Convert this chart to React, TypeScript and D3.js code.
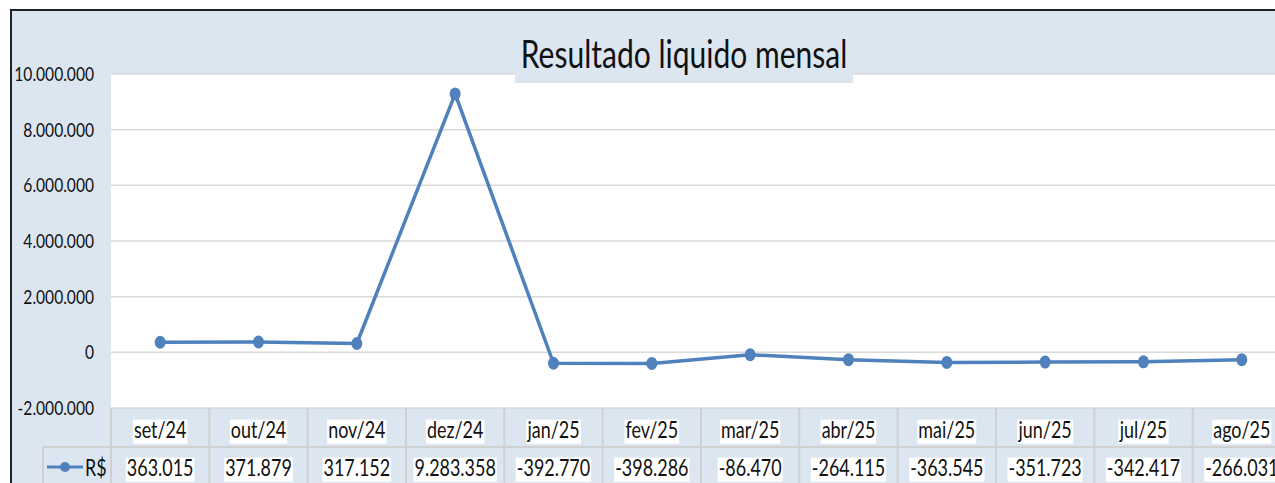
import { useRef, useEffect } from "react";
import * as d3 from "d3";

const months = [
  "set/24", "out/24", "nov/24", "dez/24", "jan/25", "fev/25",
  "mar/25", "abr/25", "mai/25", "jun/25", "jul/25", "ago/25",
];
const values = [
  363015, 371879, 317152, 9283358, -392770, -398286,
  -86470, -264115, -363545, -351723, -342417, -266031,
];
const yTicks = [-2000000, 0, 2000000, 4000000, 6000000, 8000000, 10000000];
const seriesName = "R$";
const title = "Resultado liquido mensal";

const fmt = (v: number) =>
  (v < 0 ? "-" : "") +
  Math.abs(v)
    .toString()
    .replace(/\B(?=(\d{3})+(?!\d))/g, ".");

export default function App() {
  const svgRef = useRef<SVGSVGElement>(null);

  useEffect(() => {
    drawChart();
  }, []);

  function drawChart() {
    if (!svgRef.current) return;
    const svg = d3.select(svgRef.current);
    svg.selectAll("*").remove();

    const W = 1275;
    const H = 483;
    const bg = "#dce6f1";
    const blue = "#4f81bd";
    const font = "Lato, 'Open Sans', sans-serif";
    const sx = 0.78;

    const left = 111;
    const colW = 98.33;
    const top = 74;
    const bottom = 408;

    const x = d3
      .scaleBand<string>()
      .domain(months)
      .range([left, left + colW * months.length]);
    const y = d3.scaleLinear().domain([-2000000, 10000000]).range([bottom, top]);

    // chart area
    svg.append("rect").attr("width", W).attr("height", H).attr("fill", "#fff");
    svg
      .append("rect")
      .attr("x", 11)
      .attr("y", 10)
      .attr("width", W + 10)
      .attr("height", H + 10)
      .attr("fill", bg)
      .attr("stroke", "#222")
      .attr("stroke-width", 2);

    // plot area
    svg
      .append("rect")
      .attr("x", left)
      .attr("y", top)
      .attr("width", colW * months.length)
      .attr("height", bottom - top)
      .attr("fill", "#fff");

    // gridlines
    svg
      .append("g")
      .selectAll("line")
      .data(yTicks)
      .enter()
      .append("line")
      .attr("x1", left)
      .attr("x2", W)
      .attr("y1", (d) => y(d))
      .attr("y2", (d) => y(d))
      .attr("stroke", "#d9d9d9")
      .attr("stroke-width", 1.5);

    // y tick labels
    svg
      .append("g")
      .selectAll("text")
      .data(yTicks)
      .enter()
      .append("text")
      .attr("transform", (d) => `translate(94,${y(d) + 7}) scale(${sx},1)`)
      .attr("text-anchor", "end")
      .attr("font-family", font)
      .attr("font-size", 20)
      .attr("fill", "#111")
      .text((d) => fmt(d));

    // title
    svg
      .append("rect")
      .attr("x", 515)
      .attr("y", 60)
      .attr("width", 338)
      .attr("height", 23)
      .attr("fill", bg);
    svg
      .append("text")
      .attr("transform", `translate(684,68) scale(${sx},1)`)
      .attr("text-anchor", "middle")
      .attr("font-family", font)
      .attr("font-size", 38.5)
      .attr("fill", "#111")
      .text(title);

    // table grid
    const rowMid = 447;
    const grid = svg.append("g").attr("stroke", "#d0d0d0").attr("stroke-width", 2);
    d3.range(months.length + 1).forEach((i) => {
      grid
        .append("line")
        .attr("x1", left + i * colW)
        .attr("x2", left + i * colW)
        .attr("y1", bottom)
        .attr("y2", H);
    });
    grid
      .append("line")
      .attr("x1", 43)
      .attr("x2", W)
      .attr("y1", rowMid)
      .attr("y2", rowMid);
    grid
      .append("line")
      .attr("x1", 43)
      .attr("x2", 43)
      .attr("y1", rowMid)
      .attr("y2", H);

    // cell texts with white highlight boxes
    const cellText = (cx: number, cy: number, txt: string, size: number) => {
      const g = svg.append("g");
      const box = g.append("rect").attr("fill", "#fff");
      const t = g
        .append("text")
        .attr("transform", `translate(${cx},${cy}) scale(${sx},1)`)
        .attr("text-anchor", "middle")
        .attr("font-family", font)
        .attr("font-size", size)
        .attr("fill", "#111")
        .text(txt);
      const bb = (t.node() as SVGTextElement).getBBox();
      const w = bb.width * sx + 2;
      box
        .attr("x", cx - w / 2)
        .attr("y", cy - size * 0.8)
        .attr("width", w)
        .attr("height", size * 1.05);
    };

    months.forEach((m, i) => {
      const cx = (x(m) as number) + x.bandwidth() / 2;
      cellText(cx, 438, m, 23);
      cellText(cx, 476, fmt(values[i]), 23);
    });

    // legend key
    svg
      .append("line")
      .attr("x1", 47)
      .attr("x2", 83)
      .attr("y1", 467)
      .attr("y2", 467)
      .attr("stroke", blue)
      .attr("stroke-width", 3);
    svg
      .append("circle")
      .attr("cx", 65)
      .attr("cy", 467)
      .attr("r", 5)
      .attr("fill", blue);
    svg
      .append("text")
      .attr("transform", `translate(85,476) scale(${sx},1)`)
      .attr("font-family", font)
      .attr("font-size", 23)
      .attr("fill", "#111")
      .text(seriesName);

    // series line
    const pts = months.map((m, i) => ({
      cx: (x(m) as number) + x.bandwidth() / 2,
      cy: y(values[i]),
    }));
    const line = d3
      .line<{ cx: number; cy: number }>()
      .x((d) => d.cx)
      .y((d) => d.cy);
    svg
      .append("path")
      .datum(pts)
      .attr("d", line)
      .attr("fill", "none")
      .attr("stroke", blue)
      .attr("stroke-width", 3.5)
      .attr("stroke-linejoin", "round");
    svg
      .append("g")
      .selectAll("ellipse")
      .data(pts)
      .enter()
      .append("ellipse")
      .attr("cx", (d) => d.cx)
      .attr("cy", (d) => d.cy)
      .attr("rx", 5.5)
      .attr("ry", 6.5)
      .attr("fill", blue);
  }

  return (
    <svg
      ref={svgRef}
      width={1275}
      height={483}
      style={{ position: "absolute", left: 0, top: 0, display: "block" }}
    />
  );
}
